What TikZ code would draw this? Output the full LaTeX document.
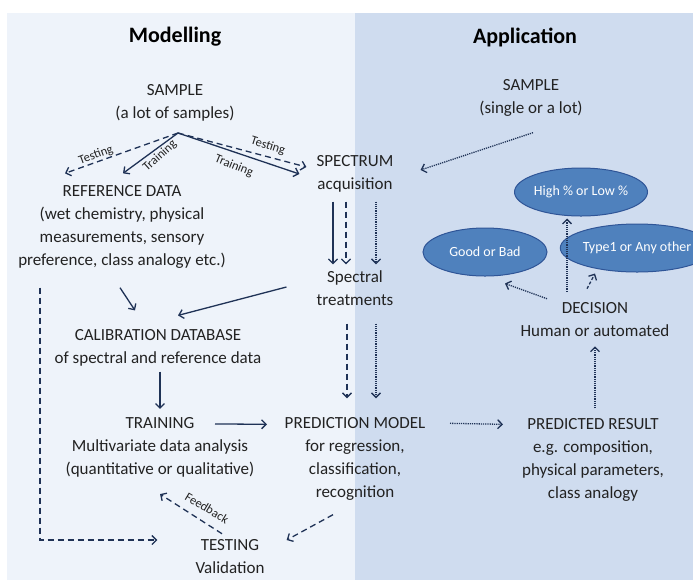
\documentclass[tikz,border=0pt]{standalone}
\usepackage{fontspec}
\setmainfont{Carlito}
\usetikzlibrary{arrows.meta,shapes.geometric,calc}

\definecolor{navy}{HTML}{1F3256}
\definecolor{ink}{HTML}{222222}
\definecolor{paneL}{HTML}{EEF3FA}
\definecolor{paneR}{HTML}{CFDCEF}
\definecolor{oval}{HTML}{4F81BD}
\definecolor{ovalrim}{HTML}{2F5597}

\begin{document}
\begin{tikzpicture}[x=1pt,y=-1pt,
    txt/.style={align=center,text=ink,font=\fontsize{17}{23}\selectfont,inner sep=1pt},
    title/.style={text=black,font=\fontsize{22}{26}\selectfont\bfseries},
    lab/.style={text=ink,font=\fontsize{12.5}{15}\selectfont,inner sep=0pt},
    flow/.style={draw=navy,line width=1.3pt,-{Straight Barb[length=4.5pt,width=9pt]}},
    test/.style={flow,dash pattern=on 6pt off 4pt},
    apply/.style={flow,dash pattern=on 1.2pt off 1pt},
    choice/.style={ellipse,draw=ovalrim,fill=oval,line width=1pt,text=white,
        font=\fontsize{14}{16}\selectfont,minimum width=124pt,minimum height=48pt,inner sep=0pt},
]

\useasboundingbox (0,0) rectangle (693,582);
\fill[paneL] (7,13) rectangle (355,580);
\fill[paneR] (355,13) rectangle (693,580);

% modelling side
\node[title] (modl) at (175,37) {Modelling};
\node[txt] (sampleL) at (175,103) {SAMPLE\\(a lot of samples)};
\node[txt] (ref) at (122,227) {REFERENCE DATA\\(wet chemistry, physical\\measurements, sensory\\preference, class analogy etc.)};
\node[txt] (spec) at (355,174) {SPECTRUM\\acquisition};
\node[txt] (treat) at (355,288) {Spectral\\treatments};
\node[txt] (calib) at (158,348) {CALIBRATION DATABASE\\of spectral and reference data};
\node[txt] (train) at (160,447) {TRAINING\\Multivariate data analysis\\(quantitative or qualitative)};
\node[txt] (pred) at (355,459) {PREDICTION MODEL\\for regression,\\classification,\\recognition};
\node[txt] (testing) at (230,557) {TESTING\\Validation};

% application side
\node[title] (appl) at (525,37) {Application};
\node[txt] (sampleR) at (531,98) {SAMPLE\\(single or a lot)};
\node[txt] (result) at (593,460) {PREDICTED RESULT\\e.g. composition,\\physical parameters,\\class analogy};
\node[txt] (decision) at (595,320) {DECISION\\Human or automated};
\node[choice] (high) at (581,192) {High \% or Low \%};
\node[choice] (good) at (485,252) {Good or Bad};
\node[choice] (type) at (637,248) {Type1 or Any other};

\coordinate (fork) at (178,133);
\draw[test] (fork) -- ($(ref.north)+(-57,-11)$);
\draw[flow] (fork) -- ($(ref.north)+(1,-11)$);
\draw[flow] (fork) -- ($(spec.west)+(-16,0)$);
\draw[test] (fork) -- ($(spec.west)+(-9,-7)$);
\node[lab,rotate=20] (tstL) at (96,155) {Testing};
\node[lab,rotate=42] (trnL) at (160,156) {Training};
\node[lab,rotate=-22] (trnR) at (234,166) {Training};
\node[lab,rotate=-18] (tstR) at (268,146) {Testing};

\draw[flow] ([xshift=-22pt,yshift=-8pt]spec.south) -- ([xshift=-22pt,yshift=5pt]treat.north);
\draw[test] ([xshift=-9pt,yshift=-8pt]spec.south) -- ([xshift=-9pt,yshift=5pt]treat.north);
\draw[apply] ([xshift=21pt,yshift=-8pt]spec.south) -- ([xshift=21pt,yshift=5pt]treat.north);
\draw[test] ([xshift=-8pt,yshift=-17pt]treat.south) -- ([xshift=-8pt,yshift=18pt]pred.north);
\draw[apply] ([xshift=21pt,yshift=-17pt]treat.south) -- ([xshift=21pt,yshift=18pt]pred.north);

\draw[flow] ($(treat.west)+(-29,-1)$) -- ($(calib.north)+(20,-13)$);
\draw[flow] ($(ref.south)+(-2,18)$) -- ($(calib.north)+(-23,-18)$);
\draw[flow] ($(calib.south)+(2,4)$) -- ($(train.north)+(0,-7)$);
\draw[flow] ($(train.north)+(55,8)$) -- ($(pred.north)+(-88,8)$);
\draw[test] ($(ref.south)+(-82,18)$) |- ($(testing.west)+(-37,-17)$);
\draw[test] ($(pred.south)+(-22,13)$) -- ($(testing.east)+(21,-17)$);
\draw[test] ($(testing.north)+(-8,-5)$) -- ($(train.south)+(0,16)$);
\node[lab,rotate=-31] (fdb) at (207,508) {Feedback};

\draw[apply] ($(sampleR.south)+(2,15)$) -- ($(spec.east)+(26,-4)$);
\draw[apply] ($(pred.north)+(95,7)$) -- ($(result.north)+(-90,7)$);
\draw[apply] ($(result.north)+(2,-9)$) -- ($(decision.south)+(0,8)$);
\draw[apply] ($(decision.north)+(-28,-10)$) -- ($(high.south)+(-14,2)$);
\draw[apply] ($(decision.north)+(-48,-3)$) -- ($(good.south)+(20,7)$);
\draw[flow,dash pattern=on 3pt off 2pt] ($(decision.north)+(-8,-13)$) -- ($(type.south)+(-42,1)$);

\end{tikzpicture}
\end{document}
